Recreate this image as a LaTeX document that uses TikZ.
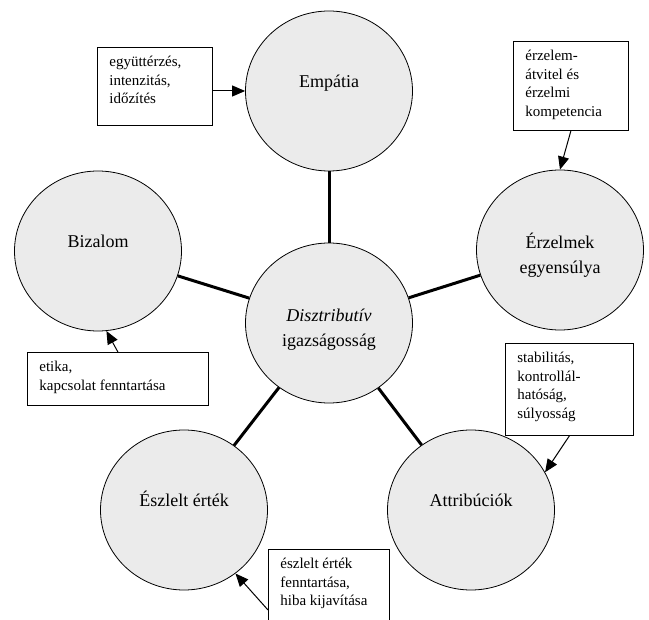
\documentclass[tikz,border=0pt]{standalone}
\usepackage{fontspec}
\setmainfont{Liberation Serif}
\usetikzlibrary{shapes.geometric, arrows.meta}
\definecolor{circlegray}{HTML}{EBEBEB}
\newcommand{\boxtext}[3]{\parbox[t][#1][t]{#2}{\raggedright\vspace*{3pt}#3}}
\newcommand{\lowerstrut}{\rule{0pt}{26pt}}

\begin{document}
\begin{tikzpicture}[
    x=1pt, y=-1pt,
    factor/.style={ellipse, draw=black, line width=0.8pt, fill=circlegray,
      minimum width=167pt, minimum height=160pt, inner sep=0pt, align=center,
      font=\fontsize{18}{25}\selectfont},
    oneline/.style={text height=12pt, text depth=18pt},
    notebox/.style={rectangle, draw=black, line width=0.8pt, fill=white, anchor=north west,
      inner xsep=12pt, inner ysep=6pt, font=\fontsize{15}{18.5}\selectfont},
    spoke/.style={line width=3pt},
    arr/.style={-{Triangle[length=13pt, width=11pt]}, line width=1pt}
  ]
    \clip (0,0) rectangle (649,620);
    \fill[white] (0,0) rectangle (649,620);

    % Centre and the five factors round it
    \node[factor] (mid) at (329,323) {\lowerstrut\textit{Disztributív}\\igazságosság};
    \node[factor, oneline] (emp) at (329,91) {Empátia};
    \node[factor, oneline] (biz) at (98,251) {Bizalom};
    \node[factor] (erz) at (560,250) {\lowerstrut Érzelmek\\egyensúlya};
    \node[factor, oneline] (att) at (471,510) {Attribúciók};
    \node[factor, oneline] (esz) at (184,510) {Észlelt érték};

    \draw[spoke] (mid) -- (emp);
    \draw[spoke] (mid) -- (biz);
    \draw[spoke] (mid) -- (erz);
    \draw[spoke] (mid) -- (att);
    \draw[spoke] (mid) -- (esz);

    % Note boxes
    \node[notebox] (nEmp) at (97,47) {\boxtext{66pt}{91pt}{együttérzés,\\ intenzitás,\\ időzítés}};
    \node[notebox] (nErz) at (513,41) {\boxtext{77pt}{91pt}{érzelem-\\ átvitel és\\ érzelmi\\ kompetencia}};
    \node[notebox] (nBiz) at (27,352) {\boxtext{41pt}{157pt}{etika,\\ kapcsolat fenntartása}};
    \node[notebox] (nAtt) at (505,343) {\boxtext{80pt}{104pt}{stabilitás,\\ kontrollál-\\ hatóság,\\ súlyosság}};
    \node[notebox] (nEsz) at (268,549) {\boxtext{68pt}{97pt}{észlelt érték\\ fenntartása,\\ hiba kijavítása}};

    \draw[arr] (nEmp.east |- emp.west) -- (emp.west);
    \draw[arr] (nErz.south) -- (erz.north);
    \draw[arr] (nBiz.north) -- (biz.-84);
    \draw[arr] (nAtt.south) -- (att.27);
    \draw[arr] ([yshift=-61pt]nEsz.north west) -- (esz.-51);
\end{tikzpicture}
\end{document}
